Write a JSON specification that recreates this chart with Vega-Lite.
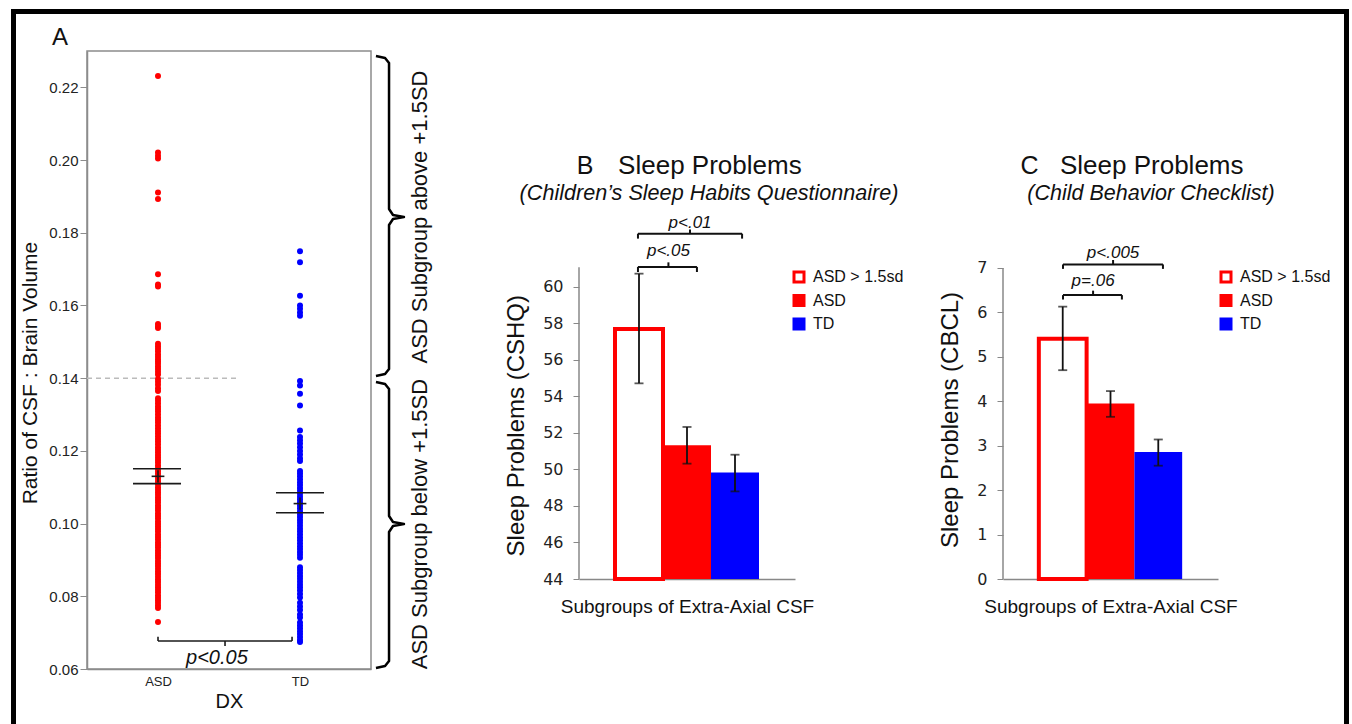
{
"$schema": "https://vega.github.io/schema/vega-lite/v6.json",
"autosize": {"type": "pad"},
"padding": {"left": 10, "top": 8, "right": 0, "bottom": 0},
"background": "white",
"config": {"font": "Liberation Sans", "view": {"stroke": null}, "axis": {"grid": false}},
"bounds": "flush",
"spacing": 208,
"resolve": {"scale": {"fill": "independent", "stroke": "independent", "color": "independent"}, "legend": {"fill": "independent", "stroke": "independent", "color": "independent"}},
"datasets": {
"ptsA": [
{"DX":"ASD","ratio":0.2231},{"DX":"ASD","ratio":0.2021},{"DX":"ASD","ratio":0.2012},{"DX":"ASD","ratio":0.2004},{"DX":"ASD","ratio":0.1911},{"DX":"ASD","ratio":0.1893},{"DX":"ASD","ratio":0.1686},{"DX":"ASD","ratio":0.1658},{"DX":"ASD","ratio":0.1652},{"DX":"ASD","ratio":0.1549},{"DX":"ASD","ratio":0.1543},{"DX":"ASD","ratio":0.1538},{"DX":"ASD","ratio":0.1495},{"DX":"ASD","ratio":0.1488},{"DX":"ASD","ratio":0.1481},{"DX":"ASD","ratio":0.1474},{"DX":"ASD","ratio":0.1466},{"DX":"ASD","ratio":0.1459},{"DX":"ASD","ratio":0.1452},{"DX":"ASD","ratio":0.1446},{"DX":"ASD","ratio":0.1440},{"DX":"ASD","ratio":0.1432},{"DX":"ASD","ratio":0.1425},{"DX":"ASD","ratio":0.1418},{"DX":"ASD","ratio":0.1410},{"DX":"ASD","ratio":0.1398},{"DX":"ASD","ratio":0.1390},{"DX":"ASD","ratio":0.1382},{"DX":"ASD","ratio":0.1372},{"DX":"ASD","ratio":0.1365},{"DX":"ASD","ratio":0.1345},{"DX":"ASD","ratio":0.1338},{"DX":"ASD","ratio":0.1330},{"DX":"ASD","ratio":0.1322},{"DX":"ASD","ratio":0.1315},{"DX":"ASD","ratio":0.1308},{"DX":"ASD","ratio":0.1300},{"DX":"ASD","ratio":0.1292},{"DX":"ASD","ratio":0.1285},{"DX":"ASD","ratio":0.1278},{"DX":"ASD","ratio":0.1270},{"DX":"ASD","ratio":0.1262},{"DX":"ASD","ratio":0.1255},{"DX":"ASD","ratio":0.1248},{"DX":"ASD","ratio":0.1240},{"DX":"ASD","ratio":0.1233},{"DX":"ASD","ratio":0.1226},{"DX":"ASD","ratio":0.1218},{"DX":"ASD","ratio":0.1210},{"DX":"ASD","ratio":0.1203},{"DX":"ASD","ratio":0.1196},{"DX":"ASD","ratio":0.1189},{"DX":"ASD","ratio":0.1182},{"DX":"ASD","ratio":0.1175},{"DX":"ASD","ratio":0.1168},{"DX":"ASD","ratio":0.1160},{"DX":"ASD","ratio":0.1152},{"DX":"ASD","ratio":0.1145},{"DX":"ASD","ratio":0.1138},{"DX":"ASD","ratio":0.1130},{"DX":"ASD","ratio":0.1123},{"DX":"ASD","ratio":0.1116},{"DX":"ASD","ratio":0.1108},{"DX":"ASD","ratio":0.1100},{"DX":"ASD","ratio":0.1093},{"DX":"ASD","ratio":0.1086},{"DX":"ASD","ratio":0.1079},{"DX":"ASD","ratio":0.1072},{"DX":"ASD","ratio":0.1065},{"DX":"ASD","ratio":0.1058},{"DX":"ASD","ratio":0.1050},{"DX":"ASD","ratio":0.1043},{"DX":"ASD","ratio":0.1036},{"DX":"ASD","ratio":0.1028},{"DX":"ASD","ratio":0.1021},{"DX":"ASD","ratio":0.1014},{"DX":"ASD","ratio":0.1006},{"DX":"ASD","ratio":0.0999},{"DX":"ASD","ratio":0.0992},{"DX":"ASD","ratio":0.0985},{"DX":"ASD","ratio":0.0978},{"DX":"ASD","ratio":0.0970},{"DX":"ASD","ratio":0.0963},{"DX":"ASD","ratio":0.0956},{"DX":"ASD","ratio":0.0948},{"DX":"ASD","ratio":0.0941},{"DX":"ASD","ratio":0.0934},{"DX":"ASD","ratio":0.0926},{"DX":"ASD","ratio":0.0919},{"DX":"ASD","ratio":0.0912},{"DX":"ASD","ratio":0.0905},{"DX":"ASD","ratio":0.0897},{"DX":"ASD","ratio":0.0890},{"DX":"ASD","ratio":0.0883},{"DX":"ASD","ratio":0.0876},{"DX":"ASD","ratio":0.0868},{"DX":"ASD","ratio":0.0861},{"DX":"ASD","ratio":0.0854},{"DX":"ASD","ratio":0.0846},{"DX":"ASD","ratio":0.0839},{"DX":"ASD","ratio":0.0832},{"DX":"ASD","ratio":0.0825},{"DX":"ASD","ratio":0.0818},{"DX":"ASD","ratio":0.0811},{"DX":"ASD","ratio":0.0803},{"DX":"ASD","ratio":0.0796},{"DX":"ASD","ratio":0.0789},{"DX":"ASD","ratio":0.0782},{"DX":"ASD","ratio":0.0775},{"DX":"ASD","ratio":0.0768},{"DX":"ASD","ratio":0.0729},
{"DX":"TD","ratio":0.1749},{"DX":"TD","ratio":0.1719},{"DX":"TD","ratio":0.1627},{"DX":"TD","ratio":0.1600},{"DX":"TD","ratio":0.1591},{"DX":"TD","ratio":0.1581},{"DX":"TD","ratio":0.1572},{"DX":"TD","ratio":0.1392},{"DX":"TD","ratio":0.1380},{"DX":"TD","ratio":0.1357},{"DX":"TD","ratio":0.1325},{"DX":"TD","ratio":0.1256},{"DX":"TD","ratio":0.1238},{"DX":"TD","ratio":0.1229},{"DX":"TD","ratio":0.1220},{"DX":"TD","ratio":0.1210},{"DX":"TD","ratio":0.1200},{"DX":"TD","ratio":0.1190},{"DX":"TD","ratio":0.1180},{"DX":"TD","ratio":0.1172},{"DX":"TD","ratio":0.1145},{"DX":"TD","ratio":0.1138},{"DX":"TD","ratio":0.1130},{"DX":"TD","ratio":0.1122},{"DX":"TD","ratio":0.1114},{"DX":"TD","ratio":0.1106},{"DX":"TD","ratio":0.1098},{"DX":"TD","ratio":0.1090},{"DX":"TD","ratio":0.1082},{"DX":"TD","ratio":0.1074},{"DX":"TD","ratio":0.1066},{"DX":"TD","ratio":0.1058},{"DX":"TD","ratio":0.1050},{"DX":"TD","ratio":0.1042},{"DX":"TD","ratio":0.1034},{"DX":"TD","ratio":0.1026},{"DX":"TD","ratio":0.1018},{"DX":"TD","ratio":0.1010},{"DX":"TD","ratio":0.1002},{"DX":"TD","ratio":0.0994},{"DX":"TD","ratio":0.0986},{"DX":"TD","ratio":0.0978},{"DX":"TD","ratio":0.0970},{"DX":"TD","ratio":0.0962},{"DX":"TD","ratio":0.0954},{"DX":"TD","ratio":0.0946},{"DX":"TD","ratio":0.0938},{"DX":"TD","ratio":0.0930},{"DX":"TD","ratio":0.0922},{"DX":"TD","ratio":0.0914},{"DX":"TD","ratio":0.0906},{"DX":"TD","ratio":0.0880},{"DX":"TD","ratio":0.0872},{"DX":"TD","ratio":0.0864},{"DX":"TD","ratio":0.0856},{"DX":"TD","ratio":0.0848},{"DX":"TD","ratio":0.0840},{"DX":"TD","ratio":0.0832},{"DX":"TD","ratio":0.0824},{"DX":"TD","ratio":0.0816},{"DX":"TD","ratio":0.0806},{"DX":"TD","ratio":0.0797},{"DX":"TD","ratio":0.0782},{"DX":"TD","ratio":0.0772},{"DX":"TD","ratio":0.0762},{"DX":"TD","ratio":0.0750},{"DX":"TD","ratio":0.0742},{"DX":"TD","ratio":0.0728},{"DX":"TD","ratio":0.0720},{"DX":"TD","ratio":0.0712},{"DX":"TD","ratio":0.0704},{"DX":"TD","ratio":0.0696},{"DX":"TD","ratio":0.0688},{"DX":"TD","ratio":0.0680},{"DX":"TD","ratio":0.0674}
],
"segA": [
{"x":0.824,"x2":1.162,"y":0.1151,"y2":0.1151},
{"x":0.824,"x2":1.162,"y":0.1110,"y2":0.1110},
{"x":1.831,"x2":2.169,"y":0.1085,"y2":0.1085},
{"x":1.831,"x2":2.169,"y":0.1030,"y2":0.1030},
{"x":0.955,"x2":1.045,"y":0.1130,"y2":0.1130},
{"x":1.0,"x2":1.0,"y":0.1113,"y2":0.1147},
{"x":1.955,"x2":2.045,"y":0.1055,"y2":0.1055},
{"x":2.0,"x2":2.0,"y":0.1038,"y2":0.1072},
{"x":1.0,"x2":1.944,"y":0.0677,"y2":0.0677},
{"x":1.0,"x2":1.0,"y":0.0677,"y2":0.0689},
{"x":1.944,"x2":1.944,"y":0.0677,"y2":0.0689},
{"x":1.472,"x2":1.472,"y":0.0677,"y2":0.0663}
],
"braces": [
{"brace":"above","ord":1,"x":2.535,"y":0.22862},{"brace":"above","ord":2,"x":2.599,"y":0.22807},{"brace":"above","ord":3,"x":2.627,"y":0.22670},{"brace":"above","ord":4,"x":2.627,"y":0.18653},{"brace":"above","ord":5,"x":2.655,"y":0.18488},{"brace":"above","ord":6,"x":2.732,"y":0.18433},{"brace":"above","ord":7,"x":2.655,"y":0.18378},{"brace":"above","ord":8,"x":2.627,"y":0.18213},{"brace":"above","ord":9,"x":2.627,"y":0.14252},{"brace":"above","ord":10,"x":2.599,"y":0.14114},{"brace":"above","ord":11,"x":2.535,"y":0.14059},
{"brace":"below","ord":1,"x":2.535,"y":0.13894},{"brace":"below","ord":2,"x":2.599,"y":0.13839},{"brace":"below","ord":3,"x":2.627,"y":0.13701},{"brace":"below","ord":4,"x":2.627,"y":0.10208},{"brace":"below","ord":5,"x":2.655,"y":0.10042},{"brace":"below","ord":6,"x":2.732,"y":0.09987},{"brace":"below","ord":7,"x":2.655,"y":0.09932},{"brace":"below","ord":8,"x":2.627,"y":0.09767},{"brace":"below","ord":9,"x":2.627,"y":0.06219},{"brace":"below","ord":10,"x":2.599,"y":0.06082},{"brace":"below","ord":11,"x":2.535,"y":0.06026}
],
"barsB": [
{"group":"ASD > 1.5sd","mean":57.7,"lo":54.72,"hi":60.73},
{"group":"ASD","mean":51.33,"lo":50.32,"hi":52.33},
{"group":"TD","mean":49.83,"lo":48.8,"hi":50.81}
],
"barsC": [
{"group":"ASD > 1.5sd","mean":5.41,"lo":4.70,"hi":6.13},
{"group":"ASD","mean":3.95,"lo":3.65,"hi":4.23},
{"group":"TD","mean":2.86,"lo":2.55,"hi":3.14}
],
"brkB": [
{"x":0.273,"x2":0.546,"y":61.1,"y2":61.1},
{"x":0.273,"x2":0.273,"y":61.1,"y2":60.82},
{"x":0.546,"x2":0.546,"y":61.1,"y2":60.82},
{"x":0.414,"x2":0.414,"y":61.1,"y2":61.35},
{"x":0.273,"x2":0.755,"y":62.92,"y2":62.92},
{"x":0.273,"x2":0.273,"y":62.92,"y2":62.65},
{"x":0.755,"x2":0.755,"y":62.92,"y2":62.65},
{"x":0.514,"x2":0.514,"y":62.92,"y2":63.15}
],
"brkC": [
{"x":0.279,"x2":0.553,"y":6.39,"y2":6.39},
{"x":0.279,"x2":0.279,"y":6.39,"y2":6.29},
{"x":0.553,"x2":0.553,"y":6.39,"y2":6.29},
{"x":0.419,"x2":0.419,"y":6.39,"y2":6.49},
{"x":0.279,"x2":0.744,"y":7.08,"y2":7.08},
{"x":0.279,"x2":0.279,"y":7.08,"y2":6.98},
{"x":0.744,"x2":0.744,"y":7.08,"y2":6.98},
{"x":0.512,"x2":0.512,"y":7.08,"y2":7.18}
]
},
"hconcat": [
{
"width": 284, "height": 618,
"view": {"stroke": "#8c8c8c", "strokeWidth": 1.5},
"resolve": {"scale": {"x": "independent"}},
"layer": [
{
"data": {"values": [{"x": -0.0176, "x2": 9.3697, "y": 0.240867, "y2": 0.043755}]},
"mark": {"type": "rect", "filled": false, "stroke": "#000000", "strokeWidth": 5},
"encoding": {
"x": {"field": "x", "type": "quantitative", "scale": {"domain": [0.5, 2.5], "nice": false, "zero": false}, "axis": null},
"x2": {"field": "x2"},
"y": {"field": "y", "type": "quantitative", "scale": {"domain": [0.06, 0.23], "nice": false, "zero": false}, "title": null},
"y2": {"field": "y2"}
}
},
{
"data": {"values": [{"x": 0.5, "x2": 1.57, "y": 0.14}]},
"mark": {"type": "rule", "color": "#bbbbbb", "strokeWidth": 1.5, "strokeDash": [5, 4]},
"encoding": {
"x": {"field": "x", "type": "quantitative", "scale": {"domain": [0.5, 2.5], "nice": false, "zero": false}, "axis": null},
"x2": {"field": "x2"},
"y": {"field": "y", "type": "quantitative", "scale": {"domain": [0.06, 0.23], "nice": false, "zero": false}, "title": null}
}
},
{
"data": {"name": "ptsA"},
"mark": {"type": "circle", "size": 36, "opacity": 1},
"encoding": {
"x": {"field": "DX", "type": "nominal", "scale": {"type": "point", "domain": ["ASD", "TD"], "padding": 0.5},
"axis": {"title": "DX", "labelAngle": 0, "ticks": false, "tickSize": 0, "labelPadding": 6, "labelFontSize": 13, "labelColor": "#222", "titleFontSize": 20, "titleFontWeight": "normal", "titleColor": "#111", "titlePadding": 3, "domainColor": "#8c8c8c", "domainWidth": 1.5}},
"y": {"field": "ratio", "type": "quantitative", "scale": {"domain": [0.06, 0.23], "nice": false, "zero": false}, "title": null,
"axis": {"values": [0.06,0.07,0.08,0.09,0.10,0.11,0.12,0.13,0.14,0.15,0.16,0.17,0.18,0.19,0.20,0.21,0.22],
"labelExpr": "round(datum.value*100) % 2 == 0 ? format(datum.value, '.2f') : ''",
"tickSize": 7, "tickColor": "#8c8c8c", "domainColor": "#8c8c8c", "domainWidth": 1.5, "labelPadding": 2, "labelFontSize": 15, "labelColor": "#222", "title": null}},
"color": {"field": "DX", "type": "nominal", "scale": {"domain": ["ASD", "TD"], "range": ["#ff0000", "#0000ff"]}, "legend": null}
}
},
{
"data": {"name": "segA"},
"mark": {"type": "rule", "color": "#1a1a1a", "strokeWidth": 1.6},
"encoding": {
"x": {"field": "x", "type": "quantitative", "scale": {"domain": [0.5, 2.5], "nice": false, "zero": false}, "axis": null},
"x2": {"field": "x2"},
"y": {"field": "y", "type": "quantitative", "scale": {"domain": [0.06, 0.23], "nice": false, "zero": false}, "title": null},
"y2": {"field": "y2"}
}
},
{
"data": {"name": "braces"},
"mark": {"type": "line", "color": "#000000", "strokeWidth": 2.5, "strokeJoin": "round"},
"encoding": {
"x": {"field": "x", "type": "quantitative", "scale": {"domain": [0.5, 2.5], "nice": false, "zero": false}, "axis": null},
"y": {"field": "y", "type": "quantitative", "scale": {"domain": [0.06, 0.23], "nice": false, "zero": false}, "title": null},
"detail": {"field": "brace"},
"order": {"field": "ord", "type": "quantitative"}
}
},
{
"data": {"values": [{"label": "ASD Subgroup above +1.5SD", "x": 2.845, "y": 0.18433}, {"label": "ASD Subgroup below +1.5SD", "x": 2.845, "y": 0.09987}]},
"mark": {"type": "text", "angle": 270, "fontSize": 22, "align": "center", "baseline": "middle", "color": "#111"},
"encoding": {
"x": {"field": "x", "type": "quantitative", "scale": {"domain": [0.5, 2.5], "nice": false, "zero": false}, "axis": null},
"y": {"field": "y", "type": "quantitative", "scale": {"domain": [0.06, 0.23], "nice": false, "zero": false}, "title": null},
"text": {"field": "label"}
}
},
{
"data": {"values": [{"label": "Ratio of CSF : Brain Volume", "x": 0.106, "y": 0.14142}]},
"mark": {"type": "text", "angle": 270, "fontSize": 21, "align": "center", "baseline": "middle", "color": "#111"},
"encoding": {
"x": {"field": "x", "type": "quantitative", "scale": {"domain": [0.5, 2.5], "nice": false, "zero": false}, "axis": null},
"y": {"field": "y", "type": "quantitative", "scale": {"domain": [0.06, 0.23], "nice": false, "zero": false}, "title": null},
"text": {"field": "label"}
}
},
{
"data": {"values": [{"label": "A", "x": 0.31, "y": 0.23358}]},
"mark": {"type": "text", "fontSize": 24, "align": "center", "baseline": "middle", "color": "#111"},
"encoding": {
"x": {"field": "x", "type": "quantitative", "scale": {"domain": [0.5, 2.5], "nice": false, "zero": false}, "axis": null},
"y": {"field": "y", "type": "quantitative", "scale": {"domain": [0.06, 0.23], "nice": false, "zero": false}, "title": null},
"text": {"field": "label"}
}
},
{
"data": {"values": [{"label": "p<0.05", "x": 1.415, "y": 0.06301}]},
"mark": {"type": "text", "fontSize": 20, "fontStyle": "italic", "align": "center", "baseline": "middle", "color": "#111"},
"encoding": {
"x": {"field": "x", "type": "quantitative", "scale": {"domain": [0.5, 2.5], "nice": false, "zero": false}, "axis": null},
"y": {"field": "y", "type": "quantitative", "scale": {"domain": [0.06, 0.23], "nice": false, "zero": false}, "title": null},
"text": {"field": "label"}
}
}
]
},
{
"width": 216, "height": 528,
"resolve": {"scale": {"x": "independent"}},
"layer": [
{
"data": {"name": "barsB"},
"mark": {"type": "bar"},
"encoding": {
"x": {"field": "group", "type": "nominal", "sort": null, "scale": {"domain": ["ASD > 1.5sd", "ASD", "TD"], "paddingInner": 0, "paddingOuter": 0.75},
"axis": {"title": "Subgroups of Extra-Axial CSF", "labels": false, "ticks": false, "tickSize": 0, "domainColor": "#888888", "domainWidth": 1.5, "titleFontSize": 19, "titleFontWeight": "normal", "titleColor": "#111", "titlePadding": 18}},
"y": {"field": "mean", "type": "quantitative", "scale": {"domain": [44, 72.93], "nice": false, "zero": false},
"axis": {"values": [44,45,46,47,48,49,50,51,52,53,54,55,56,57,58,59,60,61], "labelExpr": "datum.value % 2 == 0 ? datum.label : ''",
"domain": false, "tickSize": 6, "tickColor": "#888888", "labelPadding": 10, "labelFont": "DejaVu Sans", "labelFontSize": 16, "labelColor": "#222", "title": null}},
"y2": {"datum": 44},
"fill": {"field": "group", "type": "nominal", "scale": {"domain": ["ASD > 1.5sd", "ASD", "TD"], "range": ["#ffffff", "#ff0000", "#0000ff"]},
"legend": {"orient": "none", "legendX": 212, "legendY": 218, "title": null, "symbolType": "square", "symbolSize": 100, "symbolStrokeWidth": 3, "labelFontSize": 16, "labelOffset": 6, "rowPadding": 1.5, "labelColor": "#111", "padding": 0}},
"stroke": {"field": "group", "type": "nominal", "scale": {"domain": ["ASD > 1.5sd", "ASD", "TD"], "range": ["#ff0000", "#ff0000", "#0000ff"]},
"legend": {"orient": "none", "legendX": 212, "legendY": 218, "title": null, "symbolType": "square", "symbolSize": 100, "symbolStrokeWidth": 3, "labelFontSize": 16, "labelOffset": 6, "rowPadding": 1.5, "labelColor": "#111", "padding": 0}},
"strokeWidth": {"condition": {"test": "datum.group === 'ASD > 1.5sd'", "value": 4}, "value": 0}
}
},
{
"data": {"name": "barsB"},
"mark": {"type": "rule", "color": "#111", "strokeWidth": 1.8},
"encoding": {
"x": {"field": "group", "type": "nominal", "sort": null, "scale": {"domain": ["ASD > 1.5sd", "ASD", "TD"], "paddingInner": 0, "paddingOuter": 0.75}, "axis": null},
"y": {"field": "lo", "type": "quantitative", "scale": {"domain": [44, 72.93], "nice": false, "zero": false}, "title": null},
"y2": {"field": "hi"}
}
},
{
"data": {"name": "barsB"},
"mark": {"type": "tick", "color": "#111", "size": 9, "thickness": 1.8, "orient": "horizontal"},
"encoding": {
"x": {"field": "group", "type": "nominal", "sort": null, "scale": {"domain": ["ASD > 1.5sd", "ASD", "TD"], "paddingInner": 0, "paddingOuter": 0.75}, "axis": null},
"y": {"field": "lo", "type": "quantitative", "scale": {"domain": [44, 72.93], "nice": false, "zero": false}, "title": null}
}
},
{
"data": {"name": "barsB"},
"mark": {"type": "tick", "color": "#111", "size": 9, "thickness": 1.8, "orient": "horizontal"},
"encoding": {
"x": {"field": "group", "type": "nominal", "sort": null, "scale": {"domain": ["ASD > 1.5sd", "ASD", "TD"], "paddingInner": 0, "paddingOuter": 0.75}, "axis": null},
"y": {"field": "hi", "type": "quantitative", "scale": {"domain": [44, 72.93], "nice": false, "zero": false}, "title": null}
}
},
{
"data": {"values": [{"x": 0, "x2": 0, "y": 44, "y2": 61.08}]},
"mark": {"type": "rule", "color": "#888888", "strokeWidth": 1.5},
"encoding": {
"x": {"field": "x", "type": "quantitative", "scale": {"domain": [0, 1], "nice": false, "zero": false}, "axis": null},
"x2": {"field": "x2"},
"y": {"field": "y", "type": "quantitative", "scale": {"domain": [44, 72.93], "nice": false, "zero": false}, "title": null},
"y2": {"field": "y2"}
}
},
{
"data": {"name": "brkB"},
"mark": {"type": "rule", "color": "#111", "strokeWidth": 2},
"encoding": {
"x": {"field": "x", "type": "quantitative", "scale": {"domain": [0, 1], "nice": false, "zero": false}, "axis": null},
"x2": {"field": "x2"},
"y": {"field": "y", "type": "quantitative", "scale": {"domain": [44, 72.93], "nice": false, "zero": false}, "title": null},
"y2": {"field": "y2"}
}
},
{
"data": {"values": [{"label": "p<.05", "x": 0.414, "y": 61.97}, {"label": "p<.01", "x": 0.514, "y": 63.52}]},
"mark": {"type": "text", "fontSize": 17, "fontStyle": "italic", "align": "center", "baseline": "middle", "color": "#111"},
"encoding": {
"x": {"field": "x", "type": "quantitative", "scale": {"domain": [0, 1], "nice": false, "zero": false}, "axis": null},
"y": {"field": "y", "type": "quantitative", "scale": {"domain": [44, 72.93], "nice": false, "zero": false}, "title": null},
"text": {"field": "label"}
}
},
{
"data": {"values": [{"label": "B", "x": 0.028, "y": 66.63}]},
"mark": {"type": "text", "fontSize": 25, "align": "center", "baseline": "middle", "color": "#111"},
"encoding": {
"x": {"field": "x", "type": "quantitative", "scale": {"domain": [0, 1], "nice": false, "zero": false}, "axis": null},
"y": {"field": "y", "type": "quantitative", "scale": {"domain": [44, 72.93], "nice": false, "zero": false}, "title": null},
"text": {"field": "label"}
}
},
{
"data": {"values": [{"label": "Sleep Problems", "x": 0.181, "y": 66.63}]},
"mark": {"type": "text", "fontSize": 26, "align": "left", "baseline": "middle", "color": "#111"},
"encoding": {
"x": {"field": "x", "type": "quantitative", "scale": {"domain": [0, 1], "nice": false, "zero": false}, "axis": null},
"y": {"field": "y", "type": "quantitative", "scale": {"domain": [44, 72.93], "nice": false, "zero": false}, "title": null},
"text": {"field": "label"}
}
},
{
"data": {"values": [{"label": "(Children’s Sleep Habits Questionnaire)", "x": 0.602, "y": 65.1}]},
"mark": {"type": "text", "fontSize": 21.6, "fontStyle": "italic", "align": "center", "baseline": "middle", "color": "#111"},
"encoding": {
"x": {"field": "x", "type": "quantitative", "scale": {"domain": [0, 1], "nice": false, "zero": false}, "axis": null},
"y": {"field": "y", "type": "quantitative", "scale": {"domain": [44, 72.93], "nice": false, "zero": false}, "title": null},
"text": {"field": "label"}
}
},
{
"data": {"values": [{"label": "Sleep Problems (CSHQ)", "x": -0.287, "y": 52.4}]},
"mark": {"type": "text", "fontSize": 24, "angle": 270, "align": "center", "baseline": "middle", "color": "#111"},
"encoding": {
"x": {"field": "x", "type": "quantitative", "scale": {"domain": [0, 1], "nice": false, "zero": false}, "axis": null},
"y": {"field": "y", "type": "quantitative", "scale": {"domain": [44, 72.93], "nice": false, "zero": false}, "title": null},
"text": {"field": "label"}
}
}
]
},
{
"width": 215, "height": 528,
"resolve": {"scale": {"x": "independent"}},
"layer": [
{
"data": {"name": "barsC"},
"mark": {"type": "bar"},
"encoding": {
"x": {"field": "group", "type": "nominal", "sort": null, "scale": {"domain": ["ASD > 1.5sd", "ASD", "TD"], "paddingInner": 0, "paddingOuter": 0.75},
"axis": {"title": "Subgroups of Extra-Axial CSF", "labels": false, "ticks": false, "tickSize": 0, "domainColor": "#888888", "domainWidth": 1.5, "titleFontSize": 19, "titleFontWeight": "normal", "titleColor": "#111", "titlePadding": 18}},
"y": {"field": "mean", "type": "quantitative", "scale": {"domain": [0, 11.884], "nice": false, "zero": false},
"axis": {"values": [0,1,2,3,4,5,6,7], "domain": false, "tickSize": 6, "tickColor": "#888888", "labelPadding": 10, "labelFont": "DejaVu Sans", "labelFontSize": 16, "labelColor": "#222", "title": null}},
"y2": {"datum": 0},
"fill": {"field": "group", "type": "nominal", "scale": {"domain": ["ASD > 1.5sd", "ASD", "TD"], "range": ["#ffffff", "#ff0000", "#0000ff"]},
"legend": {"orient": "none", "legendX": 215, "legendY": 218, "title": null, "symbolType": "square", "symbolSize": 100, "symbolStrokeWidth": 3, "labelFontSize": 16, "labelOffset": 6, "rowPadding": 1.5, "labelColor": "#111", "padding": 0}},
"stroke": {"field": "group", "type": "nominal", "scale": {"domain": ["ASD > 1.5sd", "ASD", "TD"], "range": ["#ff0000", "#ff0000", "#0000ff"]},
"legend": {"orient": "none", "legendX": 215, "legendY": 218, "title": null, "symbolType": "square", "symbolSize": 100, "symbolStrokeWidth": 3, "labelFontSize": 16, "labelOffset": 6, "rowPadding": 1.5, "labelColor": "#111", "padding": 0}},
"strokeWidth": {"condition": {"test": "datum.group === 'ASD > 1.5sd'", "value": 4}, "value": 0}
}
},
{
"data": {"name": "barsC"},
"mark": {"type": "rule", "color": "#111", "strokeWidth": 1.8},
"encoding": {
"x": {"field": "group", "type": "nominal", "sort": null, "scale": {"domain": ["ASD > 1.5sd", "ASD", "TD"], "paddingInner": 0, "paddingOuter": 0.75}, "axis": null},
"y": {"field": "lo", "type": "quantitative", "scale": {"domain": [0, 11.884], "nice": false, "zero": false}, "title": null},
"y2": {"field": "hi"}
}
},
{
"data": {"name": "barsC"},
"mark": {"type": "tick", "color": "#111", "size": 9, "thickness": 1.8, "orient": "horizontal"},
"encoding": {
"x": {"field": "group", "type": "nominal", "sort": null, "scale": {"domain": ["ASD > 1.5sd", "ASD", "TD"], "paddingInner": 0, "paddingOuter": 0.75}, "axis": null},
"y": {"field": "lo", "type": "quantitative", "scale": {"domain": [0, 11.884], "nice": false, "zero": false}, "title": null}
}
},
{
"data": {"name": "barsC"},
"mark": {"type": "tick", "color": "#111", "size": 9, "thickness": 1.8, "orient": "horizontal"},
"encoding": {
"x": {"field": "group", "type": "nominal", "sort": null, "scale": {"domain": ["ASD > 1.5sd", "ASD", "TD"], "paddingInner": 0, "paddingOuter": 0.75}, "axis": null},
"y": {"field": "hi", "type": "quantitative", "scale": {"domain": [0, 11.884], "nice": false, "zero": false}, "title": null}
}
},
{
"data": {"values": [{"x": 0, "x2": 0, "y": 0, "y2": 7.0}]},
"mark": {"type": "rule", "color": "#888888", "strokeWidth": 1.5},
"encoding": {
"x": {"field": "x", "type": "quantitative", "scale": {"domain": [0, 1], "nice": false, "zero": false}, "axis": null},
"x2": {"field": "x2"},
"y": {"field": "y", "type": "quantitative", "scale": {"domain": [0, 11.884], "nice": false, "zero": false}, "title": null},
"y2": {"field": "y2"}
}
},
{
"data": {"name": "brkC"},
"mark": {"type": "rule", "color": "#111", "strokeWidth": 2},
"encoding": {
"x": {"field": "x", "type": "quantitative", "scale": {"domain": [0, 1], "nice": false, "zero": false}, "axis": null},
"x2": {"field": "x2"},
"y": {"field": "y", "type": "quantitative", "scale": {"domain": [0, 11.884], "nice": false, "zero": false}, "title": null},
"y2": {"field": "y2"}
}
},
{
"data": {"values": [{"label": "p=.06", "x": 0.419, "y": 6.71}, {"label": "p<.005", "x": 0.512, "y": 7.34}]},
"mark": {"type": "text", "fontSize": 17, "fontStyle": "italic", "align": "center", "baseline": "middle", "color": "#111"},
"encoding": {
"x": {"field": "x", "type": "quantitative", "scale": {"domain": [0, 1], "nice": false, "zero": false}, "axis": null},
"y": {"field": "y", "type": "quantitative", "scale": {"domain": [0, 11.884], "nice": false, "zero": false}, "title": null},
"text": {"field": "label"}
}
},
{
"data": {"values": [{"label": "C", "x": 0.123, "y": 9.3}]},
"mark": {"type": "text", "fontSize": 25, "align": "center", "baseline": "middle", "color": "#111"},
"encoding": {
"x": {"field": "x", "type": "quantitative", "scale": {"domain": [0, 1], "nice": false, "zero": false}, "axis": null},
"y": {"field": "y", "type": "quantitative", "scale": {"domain": [0, 11.884], "nice": false, "zero": false}, "title": null},
"text": {"field": "label"}
}
},
{
"data": {"values": [{"label": "Sleep Problems", "x": 0.265, "y": 9.3}]},
"mark": {"type": "text", "fontSize": 26, "align": "left", "baseline": "middle", "color": "#111"},
"encoding": {
"x": {"field": "x", "type": "quantitative", "scale": {"domain": [0, 1], "nice": false, "zero": false}, "axis": null},
"y": {"field": "y", "type": "quantitative", "scale": {"domain": [0, 11.884], "nice": false, "zero": false}, "title": null},
"text": {"field": "label"}
}
},
{
"data": {"values": [{"label": "(Child Behavior Checklist)", "x": 0.688, "y": 8.67}]},
"mark": {"type": "text", "fontSize": 21.5, "fontStyle": "italic", "align": "center", "baseline": "middle", "color": "#111"},
"encoding": {
"x": {"field": "x", "type": "quantitative", "scale": {"domain": [0, 1], "nice": false, "zero": false}, "axis": null},
"y": {"field": "y", "type": "quantitative", "scale": {"domain": [0, 11.884], "nice": false, "zero": false}, "title": null},
"text": {"field": "label"}
}
},
{
"data": {"values": [{"label": "Sleep Problems (CBCL)", "x": -0.242, "y": 3.58}]},
"mark": {"type": "text", "fontSize": 24, "angle": 270, "align": "center", "baseline": "middle", "color": "#111"},
"encoding": {
"x": {"field": "x", "type": "quantitative", "scale": {"domain": [0, 1], "nice": false, "zero": false}, "axis": null},
"y": {"field": "y", "type": "quantitative", "scale": {"domain": [0, 11.884], "nice": false, "zero": false}, "title": null},
"text": {"field": "label"}
}
}
]
}
]
}
